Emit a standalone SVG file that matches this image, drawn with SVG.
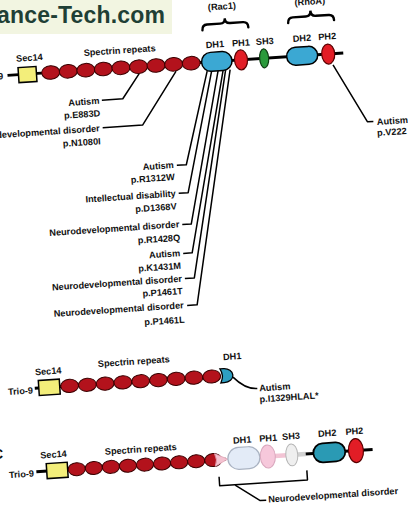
<svg xmlns="http://www.w3.org/2000/svg" width="408" height="505" viewBox="0 0 408 505">
<defs>
<style>
.t{font-family:"Liberation Sans",Arial,sans-serif;font-size:9.2px;font-weight:bold;fill:#111}
.e{text-anchor:end}
.m{text-anchor:middle}
.sp{fill:#b3121c;stroke:#3a0000;stroke-width:1}
.bb{stroke:#000;stroke-width:3;fill:none}
.ln{fill:none;stroke:#000;stroke-width:1.5;stroke-linejoin:round}
.sec{fill:#f3ee7a;stroke:#000;stroke-width:1.5}
.blue{fill:#3ba8d3;stroke:#000;stroke-width:1.5}
.teal{fill:#2a9ab4;stroke:#000;stroke-width:1.8}
.red{fill:#e21d26;stroke:#5a0000;stroke-width:1.2}
.green{fill:#2a9a3b;stroke:#0d3d12;stroke-width:1.2}
.brace{fill:none;stroke:#000;stroke-width:2.4;stroke-linecap:round}
</style>
</defs>
<rect width="408" height="505" fill="#fff"/>
<g id="watermark">
<rect x="0" y="0" width="172" height="34" fill="#f2f5e1"/>
<text x="-3" y="23" textLength="168" style="font-family:'Liberation Sans',Arial,sans-serif;font-size:23px;font-weight:bold;fill:#1f3f35">ance-Tech.com</text>
</g>
<text id="label-c" x="-7" y="459" style="font-family:'Liberation Sans',Arial,sans-serif;font-size:14px;font-weight:bold;fill:#111">C</text>
<g transform="rotate(-3.8 200 250)">
<!-- ===== Section A ===== -->
<g id="a-backbone"><line class="bb" x1="19.5" y1="63" x2="356" y2="63"/></g>
<g id="connectors">
<path class="ln" d="M151,70 L133,94 L112,94"/>
<path class="ln" d="M188,70 L151,121.5 L111,121.5"/>
<path class="ln" d="M219,72 L192,164 L182.5,164"/>
<path class="ln" d="M223.5,72 L192,192 L182.5,192"/>
<path class="ln" d="M230,72 L193,223.5 L184,223.5"/>
<path class="ln" d="M235,72 L192,252.3 L183,252.3"/>
<path class="ln" d="M237.5,72 L192.5,277.5 L183,277.5"/>
<path class="ln" d="M242,72 L193.5,304.5 L183.5,304.5"/>
<path class="ln" d="M345,74 L375.5,133 L381.5,133.3"/>
<path class="ln" d="M224.5,379 Q236,392 248,392"/>
<path class="ln" d="M204,477.5 L204,486.5 L292,486.5 L292,477"/>
<path class="ln" d="M219.5,487 L243.5,504 L249.5,504"/>
</g>
<g id="a-trio"><text class="t e" x="15" y="66.5">Trio-9</text></g>
<g id="a-sec14"><rect class="sec" x="30.5" y="56" width="18" height="15"/><text class="t m" x="42.5" y="50">Sec14</text></g>
<g id="a-spectrin">
<ellipse class="sp" cx="62.8" cy="63" rx="9" ry="6.8"/>
<ellipse class="sp" cx="80.4" cy="63" rx="9" ry="6.8"/>
<ellipse class="sp" cx="98" cy="63" rx="9" ry="6.8"/>
<ellipse class="sp" cx="115.6" cy="63" rx="9" ry="6.8"/>
<ellipse class="sp" cx="133.2" cy="63" rx="9" ry="6.8"/>
<ellipse class="sp" cx="150.8" cy="63" rx="9" ry="6.8"/>
<ellipse class="sp" cx="168.4" cy="63" rx="9" ry="6.8"/>
<ellipse class="sp" cx="186" cy="63" rx="9" ry="6.8"/>
<ellipse class="sp" cx="203.6" cy="63" rx="9" ry="6.8"/>
<text class="t m" x="133" y="48.7">Spectrin repeats</text>
</g>
<g id="a-dh1"><rect class="blue" x="214" y="53.5" width="30.5" height="19" rx="9.5"/><text class="t m" x="228.5" y="49">DH1</text></g>
<g id="a-ph1"><ellipse class="red" cx="253.5" cy="63" rx="6.5" ry="10"/><text class="t m" x="254.5" y="49.2">PH1</text></g>
<g id="a-sh3"><ellipse class="green" cx="276.7" cy="63" rx="4.5" ry="9.5"/><text class="t m" x="278.5" y="49.2">SH3</text></g>
<g id="a-dh2"><rect class="blue" x="299.3" y="54" width="31" height="18" rx="9"/><text class="t m" x="315.7" y="48.5">DH2</text></g>
<g id="a-ph2"><ellipse class="red" cx="340.9" cy="63" rx="6.5" ry="10"/><text class="t m" x="341" y="48.5">PH2</text></g>
<g id="a-rac1"><path class="brace" d="M217,31 Q217,25.5 222,25.5 L235,25.5 Q240,25.5 240,20.5 Q240,25.5 245,25.5 L258,25.5 Q263,25.5 263,31"/><text class="t m" x="238" y="11.5">(Rac1)</text></g>
<g id="a-rhoa"><path class="brace" d="M303,29.5 Q303,24 308,24 L321,24 Q326,24 326,18.5 Q326,24 331,24 L344,24 Q349,24 349,29.5"/><text class="t m" x="326" y="12.5">(RhoA)</text></g>
<g id="m-e883d"><text class="t e" x="109.5" y="97.5">Autism</text><text class="t e" x="109.5" y="110">p.E883D</text></g>
<g id="m-n1080i"><text class="t e" x="108" y="125">Neurodevelopmental disorder</text><text class="t e" x="108" y="138">p.N1080I</text></g>
<g id="m-r1312w"><text class="t e" x="179.5" y="166.5">Autism</text><text class="t e" x="179.5" y="178.5">p.R1312W</text></g>
<g id="m-d1368v"><text class="t e" x="179.5" y="195">Intellectual disability</text><text class="t e" x="179.5" y="208">p.D1368V</text></g>
<g id="m-r1428q"><text class="t e" x="181" y="226">Neurodevelopmental disorder</text><text class="t e" x="181" y="239.5">p.R1428Q</text></g>
<g id="m-k1431m"><text class="t e" x="180" y="254.8">Autism</text><text class="t e" x="180" y="267.5">p.K1431M</text></g>
<g id="m-p1461t"><text class="t e" x="180" y="280.5">Neurodevelopmental disorder</text><text class="t e" x="180" y="292.8">p.P1461T</text></g>
<g id="m-p1461l"><text class="t e" x="180" y="307">Neurodevelopmental disorder</text><text class="t e" x="180" y="321.5">p.P1461L</text></g>
<g id="m-v222"><text class="t" x="385" y="137">Autism</text><text class="t" x="384.5" y="148">p.V222</text></g>
<!-- ===== Section B ===== -->
<g id="b-backbone"><line class="bb" x1="26" y1="377" x2="212" y2="377"/></g>
<g id="b-trio"><text class="t e" x="24" y="382">Trio-9</text></g>
<g id="b-sec14"><rect class="sec" x="30" y="369.5" width="21" height="15"/><text class="t m" x="40.5" y="364">Sec14</text></g>
<g id="b-spectrin">
<ellipse class="sp" cx="60.9" cy="377" rx="8.9" ry="6.6"/>
<ellipse class="sp" cx="78.7" cy="377" rx="8.9" ry="6.6"/>
<ellipse class="sp" cx="96.5" cy="377" rx="8.9" ry="6.6"/>
<ellipse class="sp" cx="114.3" cy="377" rx="8.9" ry="6.6"/>
<ellipse class="sp" cx="132.1" cy="377" rx="8.9" ry="6.6"/>
<ellipse class="sp" cx="149.9" cy="377" rx="8.9" ry="6.6"/>
<ellipse class="sp" cx="167.7" cy="377" rx="8.9" ry="6.6"/>
<ellipse class="sp" cx="185.5" cy="377" rx="8.9" ry="6.6"/>
<ellipse class="sp" cx="203.3" cy="377" rx="8.9" ry="6.6"/>
<text class="t m" x="126.5" y="360">Spectrin repeats</text>
</g>
<g id="b-dh1"><path d="M212,370 L215.5,370 A9,7 0 0 1 215.5,384 L212,384 Q216,377 212,370 Z" fill="#2e9fc2" stroke="#000" stroke-width="1.3"/><text class="t m" x="225" y="361.5">DH1</text></g>
<g id="m-i1329"><text class="t" x="250" y="395">Autism</text><text class="t" x="249.5" y="406">p.I1329HLAL*</text></g>
<!-- ===== Section C ===== -->
<g id="c-backbone"><line class="bb" x1="22" y1="460.5" x2="212" y2="460.5"/><line class="bb" x1="291" y1="460.5" x2="300" y2="460.5"/><line class="bb" x1="331" y1="460.5" x2="359" y2="460.5"/></g>
<g id="c-trio"><text class="t e" x="19.5" y="465">Trio-9</text></g>
<g id="c-sec14"><rect class="sec" x="32.4" y="453" width="21" height="15"/><text class="t m" x="40.3" y="447.4">Sec14</text></g>
<g id="c-spectrin">
<ellipse class="sp" cx="62.5" cy="460.5" rx="8.6" ry="6.5"/>
<ellipse class="sp" cx="79.6" cy="460.5" rx="8.6" ry="6.5"/>
<ellipse class="sp" cx="96.7" cy="460.5" rx="8.6" ry="6.5"/>
<ellipse class="sp" cx="113.8" cy="460.5" rx="8.6" ry="6.5"/>
<ellipse class="sp" cx="130.9" cy="460.5" rx="8.6" ry="6.5"/>
<ellipse class="sp" cx="148" cy="460.5" rx="8.6" ry="6.5"/>
<ellipse class="sp" cx="165.1" cy="460.5" rx="8.6" ry="6.5"/>
<ellipse class="sp" cx="182.2" cy="460.5" rx="8.6" ry="6.5"/>
<ellipse class="sp" cx="199.3" cy="460.5" rx="8.6" ry="6.5"/>
<path d="M201,454.3 L214,460.5 L201,466.7 Q204,460.5 201,454.3 Z" fill="#f4c3d1" stroke="#e3a8b8" stroke-width="0.8"/>
<text class="t m" x="127.7" y="448">Spectrin repeats</text>
</g>
<g id="c-dh1"><rect x="214" y="449.5" width="32" height="22" rx="11" fill="#e3ebf7" stroke="#aab3c2" stroke-width="1.2"/><text class="t m" x="229.5" y="445.5">DH1</text></g>
<g id="c-ph1"><line x1="261" y1="460.5" x2="273" y2="460.5" stroke="#f2c4d4" stroke-width="4.5"/><ellipse cx="254" cy="460.5" rx="7.5" ry="11.5" fill="#f6c8db" stroke="#d9a7bd" stroke-width="1"/><text class="t m" x="255.5" y="445.3">PH1</text></g>
<g id="c-sh3"><line x1="284" y1="460.5" x2="292" y2="460.5" stroke="#d2d2d2" stroke-width="4.5"/><ellipse cx="278" cy="460.5" rx="6" ry="11" fill="#efefef" stroke="#b5b5b5" stroke-width="1"/><text class="t m" x="278.5" y="445">SH3</text></g>
<g id="c-dh2"><rect class="teal" x="299.6" y="451" width="32" height="19" rx="9.5"/><text class="t m" x="314.7" y="444.4">DH2</text></g>
<g id="c-ph2"><ellipse class="red" cx="342.3" cy="460.5" rx="7.5" ry="12"/><text class="t m" x="342" y="444.2">PH2</text></g>
<g id="m-c-nd"><text class="t" x="251.5" y="506.5">Neurodevelopmental disorder</text></g>
</g>
</svg>
